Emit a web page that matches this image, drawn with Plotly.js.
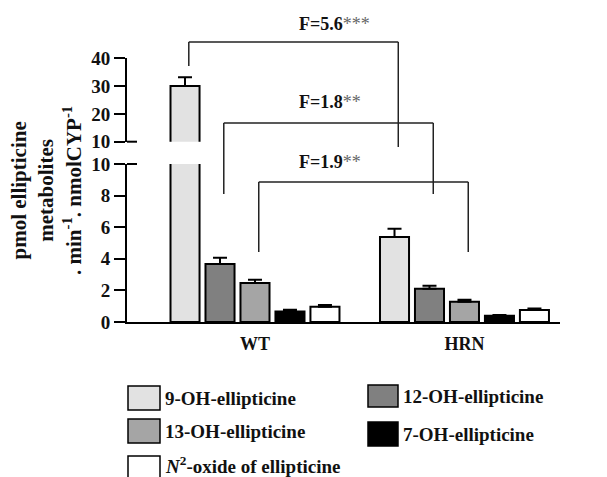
<!DOCTYPE html>
<html><head><meta charset="utf-8">
<script src="https://cdn.plot.ly/plotly-3.0.1.min.js"></script>
<style>body{margin:0;background:#fff}#chart{width:607px;height:477px}</style>
</head><body><div id="chart"></div>
<script>
// ---- data ----
const groups = ['WT', 'HRN'];
const seriesNames = ['9-OH-ellipticine', '12-OH-ellipticine', '13-OH-ellipticine', '7-OH-ellipticine', '<i>N</i><sup>2</sup>-oxide of ellipticine'];
const wtValues = [30.0, 3.67, 2.47, 0.67, 0.97];
const wtErrors = [3.2, 0.40, 0.21, 0.11, 0.11];
const hrnValues = [5.38, 2.11, 1.28, 0.40, 0.76];
const hrnErrors = [0.52, 0.19, 0.13, 0.05, 0.10];
const lowerTicks = [0, 2, 4, 6, 8, 10];
const upperTicks = [10, 20, 30, 40];
const statLabels = ['F=5.6', 'F=1.8', 'F=1.9'];
const statStars = ['***', '**', '**'];
const statSeries = [0, 1, 2];

// ---- styles ----
const colors = ['#e2e2e2', '#808080', '#a5a5a5', '#000000', '#ffffff'];
const FONT = 'Liberation Serif, Times New Roman, serif';
const W = 607, H = 477, L = 127, R = 47, T = 30, B = 155;
const PW = W - L - R, PH = H - T - B;
const px2x = p => (p - L) / PW;
const px2y = p => (H - B - p) / PH;

const bargap = 0.165, nSer = seriesNames.length;
const slot = (1 - bargap) / nSer;

const traces = [];
['y', 'y2'].forEach(ax => {
  seriesNames.forEach((name, i) => {
    traces.push({
      type: 'bar', name: name, x: groups, y: [wtValues[i], hrnValues[i]],
      yaxis: ax, showlegend: false,
      marker: {color: colors[i], line: {color: '#000', width: 2}},
      error_y: {type: 'data', symmetric: false, array: [wtErrors[i], hrnErrors[i]], arrayminus: [0, 0],
                color: '#000', thickness: 2, width: 7},
      hoverinfo: 'x+y'
    });
  });
});

const shapes = [], annotations = [];
const lineStyle = {color: '#222', width: 1.5};
// brackets (vertical geometry in px)
const bracketTop = [42, 123, 182];
const leftBottom = [66, 194, 252];
const rightBottom = [147, 194, 252];
const labelX = [297, 297, 297];
const labelY = [24, 102, 162];
statSeries.forEach((s, k) => {
  const xl = 0 + (s - (nSer - 1) / 2) * slot + 0.018;
  const xr = 1 + (s - (nSer - 1) / 2) * slot + 0.018;
  const common = {type: 'line', xref: 'x', yref: 'paper', line: lineStyle};
  shapes.push(Object.assign({x0: xl, x1: xl, y0: px2y(leftBottom[k]), y1: px2y(bracketTop[k])}, common));
  shapes.push(Object.assign({x0: xl, x1: xr, y0: px2y(bracketTop[k]), y1: px2y(bracketTop[k])}, common));
  shapes.push(Object.assign({x0: xr, x1: xr, y0: px2y(bracketTop[k]), y1: px2y(rightBottom[k])}, common));
  annotations.push({xref: 'paper', yref: 'paper', x: px2x(labelX[k]), y: px2y(labelY[k]),
    text: '<b>' + statLabels[k] + '</b><span style="color:#666">' + statStars[k] + '</span>',
    showarrow: false, font: {family: FONT, size: 18, color: '#111'}, xanchor: 'left', yanchor: 'middle'});
});
// axis break marks
[141.7, 164].forEach(p => {
  shapes.push({type: 'line', xref: 'paper', yref: 'paper', x0: px2x(L), x1: px2x(137), y0: px2y(p), y1: px2y(p),
               line: {color: '#000', width: 2}});
});

// y title
annotations.push({xref: 'paper', yref: 'paper', x: px2x(46), y: px2y(191), textangle: -90, showarrow: false,
  text: '<b>pmol ellipticine<br>metabolites<br>. min<sup>-1</sup>. nmolCYP<sup>-1</sup></b>',
  font: {family: FONT, size: 21, color: '#111'}, xanchor: 'center', yanchor: 'middle'});

// legend (custom)
const legendPos = [[128, 386], [368, 385], [128, 419], [368, 422], [128, 456]];
const swatchSize = [[32, 24], [30, 22], [32, 24], [30, 24], [32, 24]];
seriesNames.forEach((name, i) => {
  const [sx, sy] = legendPos[i], [sw, sh] = swatchSize[i];
  shapes.push({type: 'rect', xref: 'paper', yref: 'paper', x0: px2x(sx), x1: px2x(sx + sw), y0: px2y(sy), y1: px2y(sy + sh),
               fillcolor: colors[i], line: {color: '#000', width: 1.5}});
  annotations.push({xref: 'paper', yref: 'paper', x: px2x(sx + sw + 3), y: px2y(sy + sh / 2 - (i === 4 ? 3 : 0)), showarrow: false,
    text: '<b>' + name + '</b>', font: {family: FONT, size: 19, color: '#111'}, xanchor: 'left', yanchor: 'middle'});
});

const axisCommon = {showline: true, linecolor: '#000', linewidth: 2, ticks: 'outside', ticklen: 11, tickwidth: 2,
  tickcolor: '#000', showgrid: false, zeroline: false, tickfont: {family: FONT, size: 19, color: '#111'}, fixedrange: true};

const layout = {
  width: W, height: H, margin: {l: L, r: R, t: T, b: B}, paper_bgcolor: '#fff', plot_bgcolor: '#fff',
  barmode: 'group', bargap: bargap, bargroupgap: 0.17, showlegend: false,
  xaxis: {type: 'category', range: [-0.611, 1.456], showline: true, linecolor: '#000', linewidth: 2, ticks: '',
    tickfont: {family: FONT, size: 18, color: '#111'}, ticklabelstandoff: 4, showgrid: false, zeroline: false,
    tickprefix: '<b>', ticksuffix: '</b>', fixedrange: true},
  yaxis: Object.assign({}, axisCommon, {domain: [0, px2y(164)], range: [0, 10], tickvals: lowerTicks,
    ticktext: lowerTicks.map(v => '<b>' + v + '</b>')}),
  yaxis2: Object.assign({}, axisCommon, {domain: [px2y(141.7), px2y(58.3)], range: [10, 40], tickvals: upperTicks,
    ticktext: upperTicks.map(v => '<b>' + v + '</b>'), anchor: 'x'}),
  shapes: shapes, annotations: annotations
};

Plotly.newPlot('chart', traces, layout, {displayModeBar: false, staticPlot: true});
</script></body></html>
